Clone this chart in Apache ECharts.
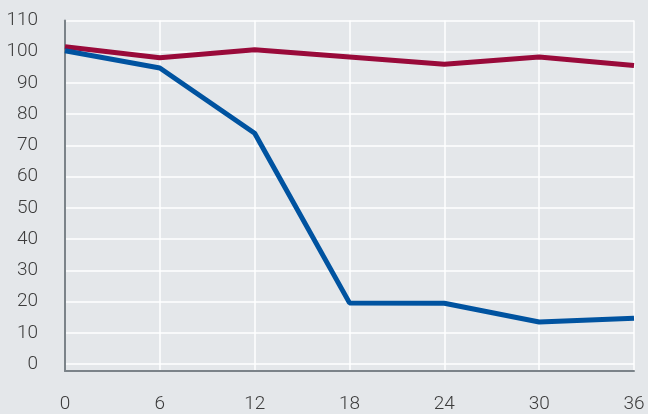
<!DOCTYPE html>
<html>
<head>
<meta charset="utf-8">
<script src="https://cdn.jsdelivr.net/npm/echarts@6/dist/echarts.min.js"></script>
<style>
  html, body { margin: 0; padding: 0; background: #e4e7ea; }
  #chart { width: 648px; height: 414px; }
</style>
</head>
<body>
<div id="chart"></div>
<script>
// 数据
const months = [0, 6, 12, 18, 24, 30, 36];
const redValues = [101.6, 98.1, 100.6, 98.3, 96.0, 98.3, 95.6];
const blueValues = [100.3, 94.8, 73.9, 19.6, 19.5, 13.5, 14.7];

const chart = echarts.init(document.getElementById('chart'));

const option = {
    backgroundColor: '#e4e7ea',
    animation: false,
    grid: { left: 65, right: 14, top: 20.5, bottom: 43 },
    xAxis: {
        type: 'value',
        min: 0,
        max: 36,
        interval: 6,
        axisLine: { show: true, onZero: false, lineStyle: { color: '#7b8389', width: 2 } },
        axisTick: { show: false },
        axisLabel: { color: '#3c3c3c', fontFamily: 'Roboto', fontWeight: 300, fontSize: 19, margin: 24 },
        splitLine: { show: true, lineStyle: { color: '#ffffff', width: 1.5 } }
    },
    yAxis: {
        type: 'value',
        min: -2.2,
        max: 110,
        splitNumber: 11,
        axisLine: { show: true, onZero: false, lineStyle: { color: '#7b8389', width: 2 } },
        axisTick: { show: false },
        axisLabel: {
            color: '#3c3c3c', fontFamily: 'Roboto', fontWeight: 300, fontSize: 19, margin: 27,
            showMinLabel: false,
            formatter: v => (v < 0 ? '' : String(v))
        },
        splitLine: { show: true, lineStyle: { color: '#ffffff', width: 1.5 } }
    },
    series: [
        {
            type: 'line',
            data: months.map((m, i) => [m, redValues[i]]),
            symbol: 'none',
            lineStyle: { color: '#990a3a', width: 5 },
            z: 3
        },
        {
            type: 'line',
            data: months.map((m, i) => [m, blueValues[i]]),
            symbol: 'none',
            lineStyle: { color: '#0053a0', width: 5 },
            z: 4
        }
    ]
};

chart.setOption(option);
</script>
</body>
</html>
